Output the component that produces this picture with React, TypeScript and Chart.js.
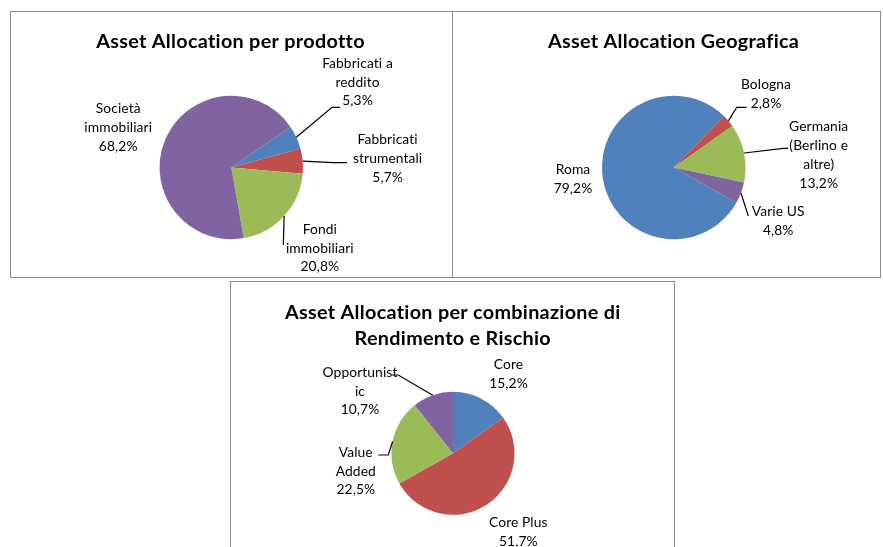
import React, { useEffect, useRef } from "react";
import { Chart, registerables } from "chart.js";

Chart.register(...registerables);

// ---------- DATA ----------
const productLabels = [["Fabbricati a", "reddito"], ["Fabbricati", "strumentali"], ["Fondi", "immobiliari"], ["Società", "immobiliari"]];
const productValues = [5.3, 5.7, 20.8, 68.2];

const geoLabels = [["Roma"], ["Bologna"], ["Germania", "(Berlino e", "altre)"], ["Varie US"]];
const geoValues = [79.2, 2.8, 13.2, 4.8];

const riskLabels = [["Core"], ["Core Plus"], ["Value", "Added"], ["Opportunist", "ic"]];
const riskValues = [15.2, 51.7, 22.5, 10.7];

const productTitle = ["Asset Allocation per prodotto"];
const geoTitle = ["Asset Allocation Geografica"];
const riskTitle = ["Asset Allocation per combinazione di", "Rendimento e Rischio"];

// ---------- STYLE / LAYOUT ----------
const COLORS = ["#4F81BD", "#C0504D", "#9BBB59", "#8064A2"];
const FONT = "Lato, 'Noto Sans', sans-serif";
const LABEL_SIZE = 13.8;
const LINE_H = 18.8;
const TITLE_SIZE = 19.8;

type LabelPos = { dx: number; dy: number; leader: [number, number][] };

type ChartSpec = {
  labels: string[][];
  values: number[];
  title: string[];
  titleX: number; // page coords
  titleY: number[];
  rotation: number;
  box: { x: number; y: number; w: number; h: number }; // canvas page rect
  center: { x: number; y: number; r: number }; // pie page center
  layout: LabelPos[];
};

const productLayout: LabelPos[] = [
  { dx: 126.2, dy: -104.2, leader: [[100.7, -60.2], [108.7, -60.2]] },
  { dx: 156.3, dy: -27.5, leader: [[102, -4.8], [115.7, -4.8]] },
  { dx: 88.5, dy: 61.8, leader: [[52, 77.5]] },
  { dx: -113.1, dy: -58.5, leader: [] },
];

const geoLayout: LabelPos[] = [
  { dx: -100.8, dy: 2.5, leader: [] },
  { dx: 92.2, dy: -82.5, leader: [[62.9, -60.2], [72.9, -60.2]] },
  { dx: 144.9, dy: -40.8, leader: [[109.5, -19.2], [114.2, -19.2]] },
  { dx: 104.4, dy: 44.2, leader: [[74.5, 48.5]] },
];

const riskLayout: LabelPos[] = [
  { dx: 55.5, dy: -88.3, leader: [] },
  { dx: 65.3, dy: 69, leader: [] },
  { dx: -97.2, dy: -1, leader: [[-64.7, 1.7], [-74.7, 1.7]] },
  { dx: -93, dy: -81, leader: [[-54.7, -78.3], [-61.3, -78.3]] },
];

const specs: ChartSpec[] = [
  {
    labels: productLabels,
    values: productValues,
    title: productTitle,
    titleX: 230.5,
    titleY: [41.7],
    rotation: 55.5,
    box: { x: 11, y: 12, w: 441, h: 265 },
    center: { x: 231.3, y: 167.5, r: 71.7 },
    layout: productLayout,
  },
  {
    labels: geoLabels,
    values: geoValues,
    title: geoTitle,
    titleX: 673.5,
    titleY: [41.7],
    rotation: 119.4,
    box: { x: 453, y: 12, w: 426, h: 265 },
    center: { x: 673.8, y: 167.5, r: 71.8 },
    layout: geoLayout,
  },
  {
    labels: riskLabels,
    values: riskValues,
    title: riskTitle,
    titleX: 452.8,
    titleY: [312.3, 338.3],
    rotation: 0,
    box: { x: 231, y: 282, w: 443, h: 265 },
    center: { x: 453, y: 453.3, r: 61.5 },
    layout: riskLayout,
  },
];

const fmt = (v: number) => v.toFixed(1).replace(".", ",") + "%";

function PieBox({ spec }: { spec: ChartSpec }) {
  const ref = useRef<HTMLCanvasElement | null>(null);
  useEffect(() => {
    const canvas = ref.current;
    if (!canvas) return;
    const { box, center } = spec;
    const cx = center.x - box.x;
    const cy = center.y - box.y;
    const r = center.r;

    const labelPlugin = {
      id: "excelLabels",
      afterDraw(chart: any) {
        const ctx = chart.ctx as any;
        ctx.save();
        // title
        ctx.fillStyle = "#000";
        ctx.textAlign = "center";
        ctx.textBaseline = "middle";
        ctx.font = `bold ${TITLE_SIZE}px ${FONT}`;
        ctx.letterSpacing = "0.3px";
        spec.title.forEach((t, i) => {
          ctx.fillText(t, spec.titleX - box.x, spec.titleY[i] - box.y);
        });
        // labels
        const meta = chart.getDatasetMeta(0);
        meta.data.forEach((arc: any, i: number) => {
          const p = arc.getProps(["x", "y", "startAngle", "endAngle", "outerRadius"], true);
          const mid = (p.startAngle + p.endAngle) / 2;
          const lay = spec.layout[i];
          if (lay.leader.length) {
            ctx.beginPath();
            ctx.strokeStyle = "#000";
            ctx.lineWidth = 1.2;
            ctx.moveTo(p.x + Math.cos(mid) * p.outerRadius, p.y + Math.sin(mid) * p.outerRadius);
            lay.leader.forEach(([lx, ly]) => ctx.lineTo(p.x + lx, p.y + ly));
            ctx.stroke();
          }
          const lines = [...spec.labels[i], fmt(spec.values[i])];
          ctx.font = `${LABEL_SIZE}px ${FONT}`;
          ctx.letterSpacing = "0.1px";
          ctx.fillStyle = "#000";
          lines.forEach((ln, k) => {
            ctx.fillText(ln, p.x + lay.dx, p.y + lay.dy + k * LINE_H);
          });
        });
        ctx.restore();
      },
    };

    const chart = new Chart(canvas, {
      type: "pie",
      data: {
        labels: spec.labels.map((l) => l.join(" ")),
        datasets: [
          {
            data: spec.values,
            backgroundColor: COLORS,
            borderWidth: 0,
          },
        ],
      },
      options: {
        animation: false,
        responsive: false,
        rotation: spec.rotation,
        layout: {
          padding: {
            left: cx - r,
            top: cy - r,
            right: box.w - cx - r,
            bottom: box.h - cy - r,
          },
        },
        plugins: {
          legend: { display: false },
          tooltip: { enabled: false },
          title: { display: false },
        },
      },
      plugins: [labelPlugin],
    });
    return () => chart.destroy();
  }, [spec]);

  return (
    <canvas
      ref={ref}
      width={spec.box.w}
      height={spec.box.h}
      style={{ position: "absolute", left: spec.box.x, top: spec.box.y, width: spec.box.w, height: spec.box.h }}
    />
  );
}

const borderStyle = "1px solid #8c8c8c";

export default function App() {
  return (
    <div
      style={{
        position: "absolute",
        left: 0,
        top: 0,
        width: 883,
        height: 547,
        overflow: "hidden",
        background: "#fff",
      }}
    >
      <div style={{ position: "absolute", left: 10, top: 11, width: 443, height: 267, boxSizing: "border-box", border: borderStyle }} />
      <div style={{ position: "absolute", left: 452, top: 11, width: 429, height: 267, boxSizing: "border-box", border: borderStyle }} />
      <div style={{ position: "absolute", left: 230, top: 281, width: 445, height: 290, boxSizing: "border-box", border: borderStyle }} />
      {specs.map((s, i) => (
        <PieBox key={i} spec={s} />
      ))}
    </div>
  );
}
